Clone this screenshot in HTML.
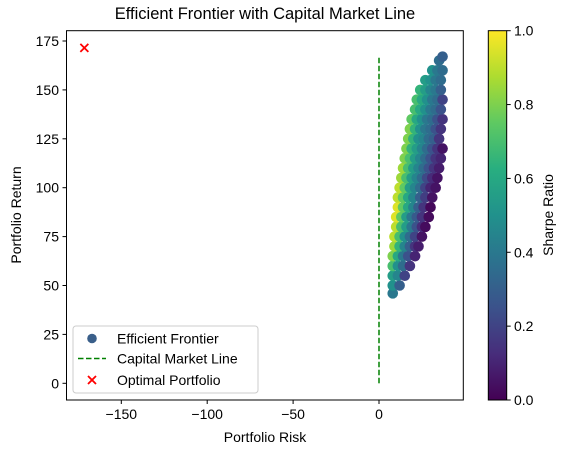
<!DOCTYPE html>
<html><head><meta charset="utf-8"><style>
html,body{margin:0;padding:0;background:#fff;}
svg{display:block;font-family:"Liberation Sans","DejaVu Sans",sans-serif;}
</style></head><body>
<svg id="chart" width="567" height="453" viewBox="0 0 567 453" xmlns="http://www.w3.org/2000/svg">
<defs>
<linearGradient id="vir" x1="0" y1="1" x2="0" y2="0">
<stop offset="0" stop-color="#440154"/><stop offset="0.125" stop-color="#472d7b"/><stop offset="0.25" stop-color="#3b528b"/><stop offset="0.375" stop-color="#2c728e"/><stop offset="0.5" stop-color="#21918c"/><stop offset="0.625" stop-color="#28ae80"/><stop offset="0.75" stop-color="#5ec962"/><stop offset="0.875" stop-color="#addc30"/><stop offset="1" stop-color="#fde725"/>
</linearGradient>
<clipPath id="pc"><rect x="66.5" y="30.7" width="396.8" height="369.3"/></clipPath>
</defs>
<text x="265" y="19" font-size="16.5" text-anchor="middle">Efficient Frontier with Capital Market Line</text>
<g id="marks" clip-path="url(#pc)"></g>
<rect x="66.5" y="30.7" width="396.8" height="369.3" fill="none" stroke="#000" stroke-width="1"/>
<g id="xaxis"></g><g id="yaxis"></g>
<text x="265" y="442" font-size="14" text-anchor="middle">Portfolio Risk</text>
<text transform="translate(21,215) rotate(-90)" font-size="14" text-anchor="middle">Portfolio Return</text>
<rect x="488.3" y="30.7" width="18.4" height="369.3" fill="url(#vir)" stroke="#000" stroke-width="1"/>
<g id="cbaxis"></g>
<text transform="translate(553,215) rotate(-90)" font-size="14" text-anchor="middle">Sharpe Ratio</text>
<g>
<rect x="73" y="326" width="185" height="67" rx="3" fill="#fff" fill-opacity="0.8" stroke="#ccc"/>
<circle cx="92" cy="338.5" r="4.8" fill="#3a5f8a"/>
<text x="117" y="343.5" font-size="14">Efficient Frontier</text>
<line x1="78" y1="358.5" x2="106" y2="358.5" stroke="#008000" stroke-width="1.5" stroke-dasharray="5.5,2.5"/>
<text x="117" y="363.5" font-size="14">Capital Market Line</text>
<path d="M88,376L96,384M88,384L96,376" stroke="#ff0000" stroke-width="1.8"/>
<text x="117" y="385" font-size="14">Optimal Portfolio</text>
</g>
</svg>
<script>
const xTicks=[-150,-100,-50,0];
const yTicks=[0,25,50,75,100,125,150,175];
const cbTicks=[0.0,0.2,0.4,0.6,0.8,1.0];
const cbLabels=["0.0","0.2","0.4","0.6","0.8","1.0"];
const cmlRisk=[0,0];
const cmlReturn=[0,167.5];
const optRisk=[-171.5];
const optReturn=[171.5];
const risks=[8,8,12,8,11,15,8,11,14,18,8,11,14,17,21,9,12,15,18,21,23,9,12,15,18,21,25,10,13,16,19,22,25,27,10,13,16,19,22,25,29,11,14,17,20,23,26,30,11,14,17,20,24,27,31,12,15,18,21,24,27,30,33,13,16,19,22,25,28,31,34,14,17,20,23,26,29,32,35,15,18,21,24,27,30,33,36,16,19,22,25,28,31,34,37,17,20,23,26,29,32,35,18,21,24,27,30,33,36,19,22,25,28,31,34,37,21,24,27,30,33,36,22,25,28,31,34,37,24,27,30,33,36,27,30,33,36,31,34,37,35,37];
const returns=[46,50,50,55,55,55,60,60,60,60,65,65,65,65,65,70,70,70,70,70,70,75,75,75,75,75,75,80,80,80,80,80,80,80,85,85,85,85,85,85,85,90,90,90,90,90,90,90,95,95,95,95,95,95,95,100,100,100,100,100,100,100,100,105,105,105,105,105,105,105,105,110,110,110,110,110,110,110,110,115,115,115,115,115,115,115,115,120,120,120,120,120,120,120,120,125,125,125,125,125,125,125,130,130,130,130,130,130,130,135,135,135,135,135,135,135,140,140,140,140,140,140,145,145,145,145,145,145,150,150,150,150,150,155,155,155,155,160,160,160,165,167];
const sharpes=[0.4,0.5,0.3,0.55,0.45,0.2,0.7,0.5,0.35,0.15,0.8,0.6,0.4,0.25,0.1,0.85,0.65,0.45,0.3,0.15,0.08,0.9,0.7,0.5,0.35,0.2,0.05,0.9,0.7,0.55,0.4,0.25,0.12,0.03,0.95,0.75,0.55,0.4,0.28,0.15,0.03,0.95,0.75,0.6,0.45,0.3,0.15,0.02,0.9,0.75,0.6,0.45,0.3,0.18,0.05,0.9,0.75,0.55,0.45,0.35,0.2,0.1,0.05,0.85,0.7,0.55,0.45,0.35,0.22,0.12,0.05,0.85,0.7,0.55,0.45,0.35,0.25,0.15,0.08,0.8,0.7,0.55,0.45,0.35,0.25,0.15,0.1,0.8,0.65,0.55,0.45,0.35,0.25,0.15,0.05,0.8,0.65,0.5,0.45,0.35,0.3,0.15,0.8,0.65,0.5,0.4,0.35,0.25,0.15,0.75,0.6,0.5,0.4,0.35,0.25,0.15,0.7,0.6,0.5,0.4,0.35,0.25,0.7,0.6,0.5,0.4,0.35,0.2,0.65,0.55,0.45,0.4,0.3,0.55,0.5,0.4,0.35,0.5,0.4,0.35,0.35,0.3];

const NS="http://www.w3.org/2000/svg";
function xs(v){return 379+v*1.718;}
function ys(v){return 383.3-v*1.956;}
function cs(v){return 400-v*369.3;}
const vstops=[[68,1,84],[71,45,123],[59,82,139],[44,114,142],[33,145,140],[40,174,128],[94,201,98],[173,220,48],[253,231,37]];
function viridis(t){t=Math.max(0,Math.min(1,t))*8;const i=Math.min(7,Math.floor(t)),f=t-i,a=vstops[i],b=vstops[i+1];
return "rgb("+a.map((c,k)=>Math.round(c+(b[k]-c)*f)).join(",")+")";}
function mk(tag,attrs,parent){const e=document.createElementNS(NS,tag);for(const k in attrs)e.setAttribute(k,attrs[k]);parent.appendChild(e);return e;}
const marks=document.getElementById('marks');
for(let i=0;i<risks.length;i++){
  const c=mk('circle',{cx:xs(risks[i]),cy:ys(returns[i]),r:5.3,fill:viridis(sharpes[i])},marks);
  
  
}
const cml=mk('line',{x1:xs(cmlRisk[0]),y1:ys(cmlReturn[0]),x2:xs(cmlRisk[1]),y2:ys(cmlReturn[1]),stroke:'#008000','stroke-width':1.5,'stroke-dasharray':'5.5,2.5'},marks);


for(let i=0;i<optRisk.length;i++){
  const x=xs(optRisk[i]),y=ys(optReturn[i]);
  const g=mk('path',{d:`M${x-4},${y-4}L${x+4},${y+4}M${x-4},${y+4}L${x+4},${y-4}`,stroke:'#ff0000','stroke-width':1.8,fill:'none'},marks);
  
  
}
const xa=document.getElementById('xaxis');
xTicks.forEach(v=>{const x=xs(v);
  const t=mk('line',{x1:x,y1:400,x2:x,y2:404,stroke:'#000'},xa);
  
  
  const l=mk('text',{x:x,y:419,'font-size':14,'text-anchor':'middle'},xa);l.textContent=(v<0?'\u2212'+(-v):''+v);
  
  
});
const ya=document.getElementById('yaxis');
yTicks.forEach(v=>{const y=ys(v);
  const t=mk('line',{x1:62.5,y1:y,x2:66.5,y2:y,stroke:'#000'},ya);
  
  
  const l=mk('text',{x:59,y:y+5,'font-size':14,'text-anchor':'end'},ya);l.textContent=''+v;
  
  
});
const ca=document.getElementById('cbaxis');
cbTicks.forEach((v,i)=>{const y=cs(v);
  const t=mk('line',{x1:506.7,y1:y,x2:510.7,y2:y,stroke:'#000'},ca);
  
  
  const l=mk('text',{x:514,y:y+5,'font-size':14},ca);l.textContent=cbLabels[i];
  
  
});
</script>
</body></html>
